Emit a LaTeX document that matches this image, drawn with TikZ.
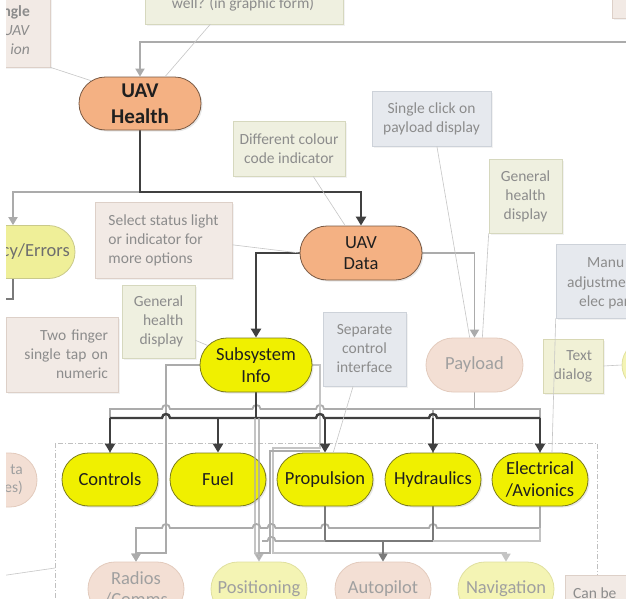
\documentclass[tikz,border=0pt]{standalone}
\usepackage{fontspec}
\setmainfont{Carlito}
\usetikzlibrary{arrows.meta,shadows,backgrounds,shapes.misc}
\definecolor{cOrF}{HTML}{F4B183}
\definecolor{cOrD}{HTML}{7A5A44}
\definecolor{cYeF}{HTML}{F0F000}
\definecolor{cYeD}{HTML}{7C7C1C}
\definecolor{cPkF}{HTML}{F3DFD4}
\definecolor{cPkD}{HTML}{E3CBBD}
\definecolor{cPyF}{HTML}{F4F4B4}
\definecolor{cPyD}{HTML}{E0E0A0}
\definecolor{cEyF}{HTML}{EFEF98}
\definecolor{cEyD}{HTML}{C9C98A}
\definecolor{cNGr}{HTML}{EFF0E0}
\definecolor{cNGrB}{HTML}{D6D8BE}
\definecolor{cNPk}{HTML}{F2EAE5}
\definecolor{cNPkB}{HTML}{DDD0C8}
\definecolor{cNBl}{HTML}{E6E9EE}
\definecolor{cNBlB}{HTML}{CDD2D9}
\definecolor{cNTd}{HTML}{F1F1D6}
\definecolor{cNTdB}{HTML}{D8D8B4}
\definecolor{cNText}{HTML}{8C8C8C}
\definecolor{cFText}{HTML}{A0A0A0}
\definecolor{cErrText}{HTML}{6E6E6E}
\definecolor{cDark}{HTML}{404040}
\definecolor{cGrey}{HTML}{ABABAB}
\definecolor{cGreyD}{HTML}{7A7A7A}
\definecolor{cGreyL}{HTML}{C4C4C4}
\definecolor{cCall}{HTML}{C6C6C6}
\definecolor{cDash}{HTML}{C0C0C0}
\newcommand{\hopR}[2]{-- ({#1-4},#2) .. controls ({#1-4},{#2-5.3}) and ({#1+4},{#2-5.3}) .. ({#1+4},#2)}
\begin{document}
\begin{tikzpicture}[x=1pt,y=-1pt,
  stad/.style={rounded rectangle, minimum height=53pt, minimum width=96pt, align=center,
    line width=0.8pt, font=\fontsize{18.5}{21.5}\selectfont, inner sep=0pt, text=black!88},
  shad/.style={drop shadow={opacity=0.18,shadow xshift=1.5pt,shadow yshift=-1.5pt}},
  ornode/.style={stad, shad, fill=cOrF, draw=cOrD},
  ynode/.style={stad, shad, fill=cYeF, draw=cYeD},
  eynode/.style={stad, fill=cEyF, draw=cEyD},
  pknode/.style={stad, fill=cPkF, draw=cPkD, text=cFText},
  pynode/.style={stad, fill=cPyF, draw=cPyD, text=cFText},
  note/.style={rectangle, line width=0.6pt, align=center, font=\fontsize{15.5}{19}\selectfont,
    text=cNText, inner sep=0pt, drop shadow={opacity=0.1,shadow xshift=1.5pt,shadow yshift=-1.5pt}},
  gnote/.style={note, fill=cNGr, draw=cNGrB},
  pnote/.style={note, fill=cNPk, draw=cNPkB},
  bnote/.style={note, fill=cNBl, draw=cNBlB},
  tnote/.style={note, fill=cNTd, draw=cNTdB},
  txt/.style={inner sep=0pt, font=\fontsize{15.5}{19}\selectfont, text=cNText},
  dl/.style={draw=cDark, line width=2.4pt},
  da/.style={dl, -{Triangle[width=10pt,length=9pt]}},
  gl/.style={draw=cGrey, line width=1.8pt},
  gdl/.style={draw=cGreyD, line width=1.6pt},
  gll/.style={draw=cGreyL, line width=1.6pt},
  ga/.style={gl, -{Triangle[width=9pt,length=8pt]}},
  gla/.style={gll, -{Triangle[width=9pt,length=8pt]}},
  gda/.style={gdl, -{Triangle[width=9pt,length=8pt]}},
  gra/.style={gl, {Triangle[width=9pt,length=8pt]}-},
  co/.style={draw=cCall, line width=0.6pt},
  dashbox/.style={draw=cDash, line width=0.6pt, dash pattern=on 5pt off 2pt on 1pt off 2pt}
]
\useasboundingbox (0,0) rectangle (626,605);
\begin{scope}
\clip (6,0) rectangle (626,598);
% annotation boxes
\node[pnote, minimum width=80pt, minimum height=87pt] (tl) at (10,23.5) {};
\node[txt, anchor=east, align=right] (tltext) at (30,30) {\textbf{ngle}\\\textit{UAV}\\\textit{ion}};
\node[gnote, minimum width=198pt, minimum height=54pt] (topbox) at (244,-3) {};
\node[txt, anchor=base] (toptext) at (243,9) {well? (in graphic form)};
\node[pnote, minimum width=28pt, minimum height=28pt] (trbox) at (626,4) {};
\node[gnote, minimum width=112pt, minimum height=55pt] (diff) at (289,148.5) {Different colour\\code indicator};
\node[bnote, minimum width=119pt, minimum height=55pt] (click) at (431.5,118.5) {Single click on\\payload display};
\node[gnote, minimum width=73pt, minimum height=74pt] (genR) at (525.5,196) {General\\health\\display};
\node[pnote, minimum width=137pt, minimum height=76pt, align=left] (select) at (163.5,240) {Select status light\\or indicator for\\more options};
\node[gnote, minimum width=73pt, minimum height=73pt, align=right] (genL) at (158.5,321.5) {General\\health\\display};
\node[pnote, minimum width=112pt, minimum height=75pt, text width=92pt, align=right] (two) at (62,354.5) {Two finger\\single tap on\\numeric};
\node[bnote, minimum width=83pt, minimum height=74pt] (sep) at (364.5,349) {Separate\\control\\interface};
\node[bnote, minimum width=94pt, minimum height=74pt] (manual) at (603,281) {};
\node[txt, anchor=base west] (man1) at (587,267) {Manu};
\node[txt, anchor=base west] (man2) at (567,287) {adjustme};
\node[txt, anchor=base west] (man3) at (579,306) {elec par};
\node[tnote, minimum width=60pt, minimum height=54pt, align=right] (tdlg) at (573,366) {Text\\dialog};
\node[pnote, minimum width=85pt, minimum height=45pt] (canbe) at (607.5,597.5) {};
\node[txt, anchor=base west] (canbetext) at (573,598) {Can be};
% main nodes
\node[ornode, minimum width=122pt, font=\fontsize{21}{26}\selectfont\bfseries] (health) at (140,103.5) {UAV\\Health};
\node[ornode, minimum width=122pt, minimum height=54pt] (data) at (361,253) {UAV\\Data};
\node[eynode, minimum width=124pt] (errors) at (13,252) {};
\node[txt, anchor=east, text=cErrText, font=\fontsize{18.5}{21.5}\selectfont] (errtext) at (70,252) {cy/Errors};
\node[ynode, minimum width=112pt, minimum height=54pt] (sub) at (256,365) {Subsystem\\Info};
\node[pknode, minimum width=97pt, minimum height=54pt] (payload) at (474.5,365) {Payload};
\node[pynode, minimum width=70pt, minimum height=50pt] (rnode) at (657,365) {};
\node[ynode] (controls) at (110,479.5) {Controls};
\node[ynode] (fuel) at (218,479.5) {Fuel};
\node[ynode] (prop) at (325,479.5) {Propulsion};
\node[ynode] (hyd) at (433,479.5) {Hydraulics};
\node[ynode] (elec) at (540,479.5) {Electrical\\/Avionics};
\node[pknode, minimum width=114pt, minimum height=54pt] (leftn) at (-20,480) {};
\node[txt, anchor=east, align=right, text=cFText, font=\fontsize{15.5}{18}\selectfont] (lefttext) at (23,480) {ta\\es)};
\node[pknode, minimum height=54pt] (radios) at (136,589) {Radios\\/Comms};
\node[pynode, minimum height=54pt] (pos) at (259,589) {Positioning};
\node[pknode, minimum height=54pt] (auto) at (383,589) {Autopilot};
\node[pynode, minimum height=54pt] (nav) at (506,589) {Navigation};
% grey lines crossing over Fuel
\draw[gl, opacity=0.7] (255,418) -- (255,553) -- (pos.north |- 0,553);
\draw[ga, opacity=0.8] (pos.north |- 0,418) -- (pos.north);
% callouts
\coordinate (lftA) at (0,576);
\coordinate (lftB) at (55,568);
\draw[co] (tl.south east) -- (health.155);
\draw[co] (topbox.-141) -- (health.47);
\draw[co] (diff.-49) -- (data.120);
\draw[co] (click.-79) -- (payload.100);
\draw[co] (genR.south west) -- (payload.74);
\draw[co] (select.-4) -- (data.west);
\draw[co] (genL.-27) -- (sub.158);
\draw[co] (sep.-107) -- (prop.73);
\draw[co] (manual.south west) -- (elec.66);
\draw[co] (tdlg.east) -- (rnode.west);
\draw[co] (lftA) -- (lftB);
\end{scope}
\begin{pgfonlayer}{background}
\fill[white] (0,0) rectangle (626,605);
\begin{scope}
\clip (6,0) rectangle (626,598);
\draw[dashbox] (55,443) rectangle (597,640);
\coordinate (offR) at (640,42);
\coordinate (offL) at (-5,299);
% grey connectors
\draw[ga] (offR) -| (health.north);
\draw[ga] (140,192) -| (errors.north);
\draw[gdl, line width=1.3pt] (errors.south) |- (offL);
\draw[ga] (data.east) -| (payload.north);
\draw[gl] (controls.north) -- (110,409) \hopR{166}{409} \hopR{256.5}{409} \hopR{320}{409} -- (540,409) -- (elec.north);
\draw[gl] (hyd.north) -- (433,409);
\draw[gl] (payload.south) -- (474.5,409);
\draw[ga] (sub.west) -| (166,553) -| (radios.north);
\draw[gla] (sub.east) -| (320,448) -| (273,553) -| (nav.north);
\draw[gl] (320,451) -| (270,553) -- (259,553);
\draw[gra] (radios.north) -- (136,528) \hopR{166}{528} \hopR{256.5}{528} \hopR{271.5}{528} \hopR{325}{528} \hopR{433}{528} -- (540,528) -- (elec.south);
\draw[gdl] (prop.south) -- (325,541) -- (433,541) -- (hyd.south);
\draw[gl] (262,541) \hopR{271.5}{541} -- (325,541);
\draw[gll] (433,541) -- (540,541) -- (540,528);
\draw[gda] (383,541) -- (auto.north);
% dark connectors
\draw[da] (health.south) -- (140,192) -| (data.north);
\draw[da] (data.west) -| (sub.north);
\draw[dl] (sub.south) -- (256,418);
\draw[dl] (110,418) \hopR{166}{418} \hopR{320}{418} \hopR{433}{418} -- (540,418);
\foreach \n in {controls,fuel,prop,hyd,elec} \draw[da] (\n.north |- 0,418) -- (\n.north);
\end{scope}
\end{pgfonlayer}
\end{tikzpicture}
\end{document}
